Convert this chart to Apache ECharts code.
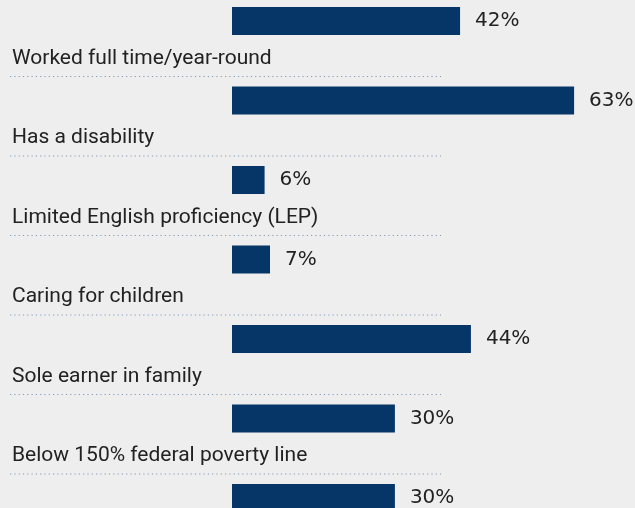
<!DOCTYPE html>
<html>
<head>
<meta charset="utf-8">
<script src="https://cdn.jsdelivr.net/npm/echarts@6/dist/echarts.min.js"></script>
<style>
  html, body { margin: 0; padding: 0; background: #eeeeee; }
  #chart { width: 635px; height: 508px; }
</style>
</head>
<body>
<div id="chart"></div>
<script>
// the first row's label sits above the picture, so it is a guess
const categories = [
  'Women',
  'Worked full time/year-round',
  'Has a disability',
  'Limited English proficiency (LEP)',
  'Caring for children',
  'Sole earner in family',
  'Below 150% federal poverty line'
]
const shares = [42, 63, 6, 7, 44, 30, 30]

const chart = echarts.init(document.getElementById('chart'))

const option = {
  backgroundColor: '#eeeeee',
  animation: false,
  textStyle: { fontFamily: 'Roboto' },
  grid: {
    left: 232,
    width: 543,
    top: -18.75,
    height: 556.5,
    outerBoundsMode: 'none',
    containLabel: false
  },
  xAxis: { type: 'value', min: 0, max: 100, show: false },
  yAxis: {
    type: 'category',
    data: categories,
    inverse: true,
    show: false
  },
  series: [
    {
      type: 'bar',
      data: shares,
      barWidth: 28,
      itemStyle: { color: '#063567' },
      label: {
        show: true,
        position: 'right',
        distance: 15,
        formatter: '{c}%',
        color: '#222',
        fontSize: 20,
        fontFamily: 'DejaVu Sans'
      }
    },
    {
      // row labels and the dotted rules under them
      type: 'custom',
      data: categories.map((c, i) => [0, i]),
      renderItem: function (params, api) {
        const p = api.coord([0, api.value(1)])
        const name = categories[api.value(1)]
        return {
          type: 'group',
          children: [
            {
              type: 'text',
              style: {
                x: 12,
                y: p[1] - 42,
                text: name,
                fill: '#222',
                font: '21px Roboto',
                verticalAlign: 'middle'
              }
            },
            {
              type: 'line',
              shape: { x1: 10, y1: p[1] - 24, x2: 441, y2: p[1] - 24 },
              style: { stroke: '#7f9ab8', lineWidth: 1.2, lineDash: [1.2, 3.1] }
            }
          ]
        }
      }
    }
  ]
}

chart.setOption(option)
</script>
</body>
</html>
